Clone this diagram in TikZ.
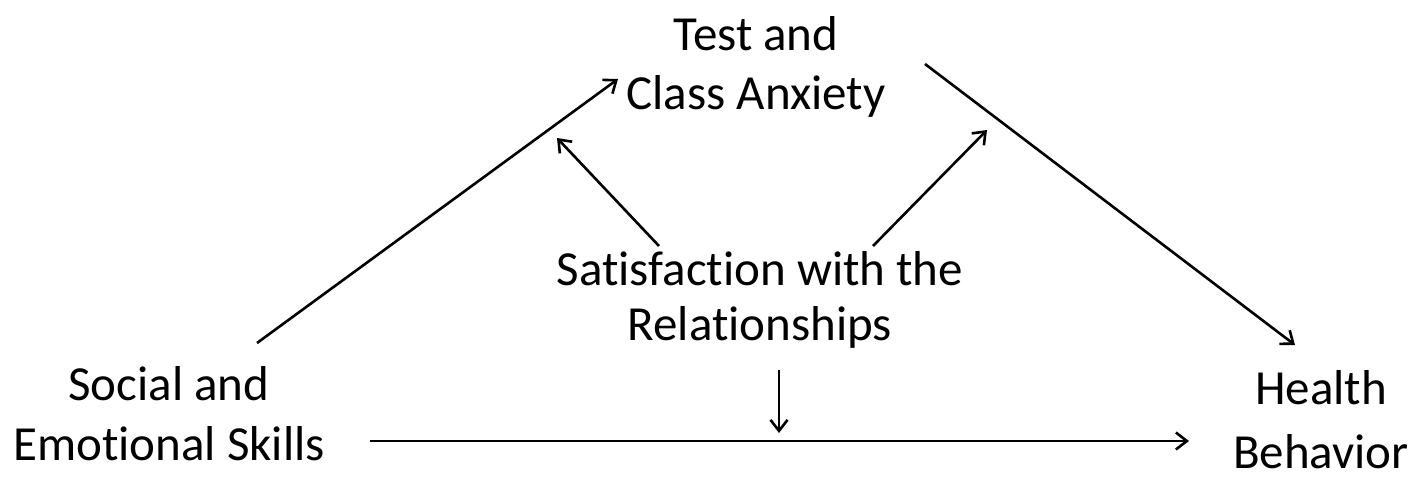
\documentclass[tikz,border=0pt]{standalone}
\usepackage{fontspec}
\setmainfont[Ligatures=NoCommon]{Carlito}
\usetikzlibrary{arrows.meta}
\tikzset{
  lbl/.style={align=center, inner sep=0pt},
  arr/.style={line width=2.6pt, -{Straight Barb[length=11pt,width=17pt]}}
}
\begin{document}
\begin{tikzpicture}[x=1pt,y=-1pt]
\useasboundingbox (0,0) rectangle (1417,481);
\node[lbl, font=\fontsize{49}{59}\selectfont] (tca) at (756,67) {Test and\\Class Anxiety};
\node[lbl, font=\fontsize{49}{55}\selectfont] (sat) at (760,300) {Satisfaction with the\\Relationships};
\node[lbl, font=\fontsize{49}{60}\selectfont] (ses) at (169,414) {Social and\\Emotional Skills};
\node[lbl, font=\fontsize{49}{64}\selectfont] (hb)  at (1321,420) {Health\\Behavior};
% endpoints
\coordinate (a1s) at (257,343);
\coordinate (a1e) at (618,79);
\coordinate (a2s) at (659,246);
\coordinate (a2e) at (557,138);
\coordinate (a3s) at (873,246);
\coordinate (a3e) at (987,130);
\coordinate (a4s) at (925,64);
\coordinate (a4e) at (1295,345);
\coordinate (a5s) at (370,441);
\coordinate (a5e) at (1189,441);
\coordinate (a6s) at (779,370);
\coordinate (a6e) at (779,433);
\draw[arr] (a1s) -- (a1e);
\draw[arr] (a2s) -- (a2e);
\draw[arr] (a3s) -- (a3e);
\draw[arr] (a4s) -- (a4e);
\draw[arr] (a5s) -- (a5e);
\draw[arr] (a6s) -- (a6e);
\end{tikzpicture}
\end{document}
